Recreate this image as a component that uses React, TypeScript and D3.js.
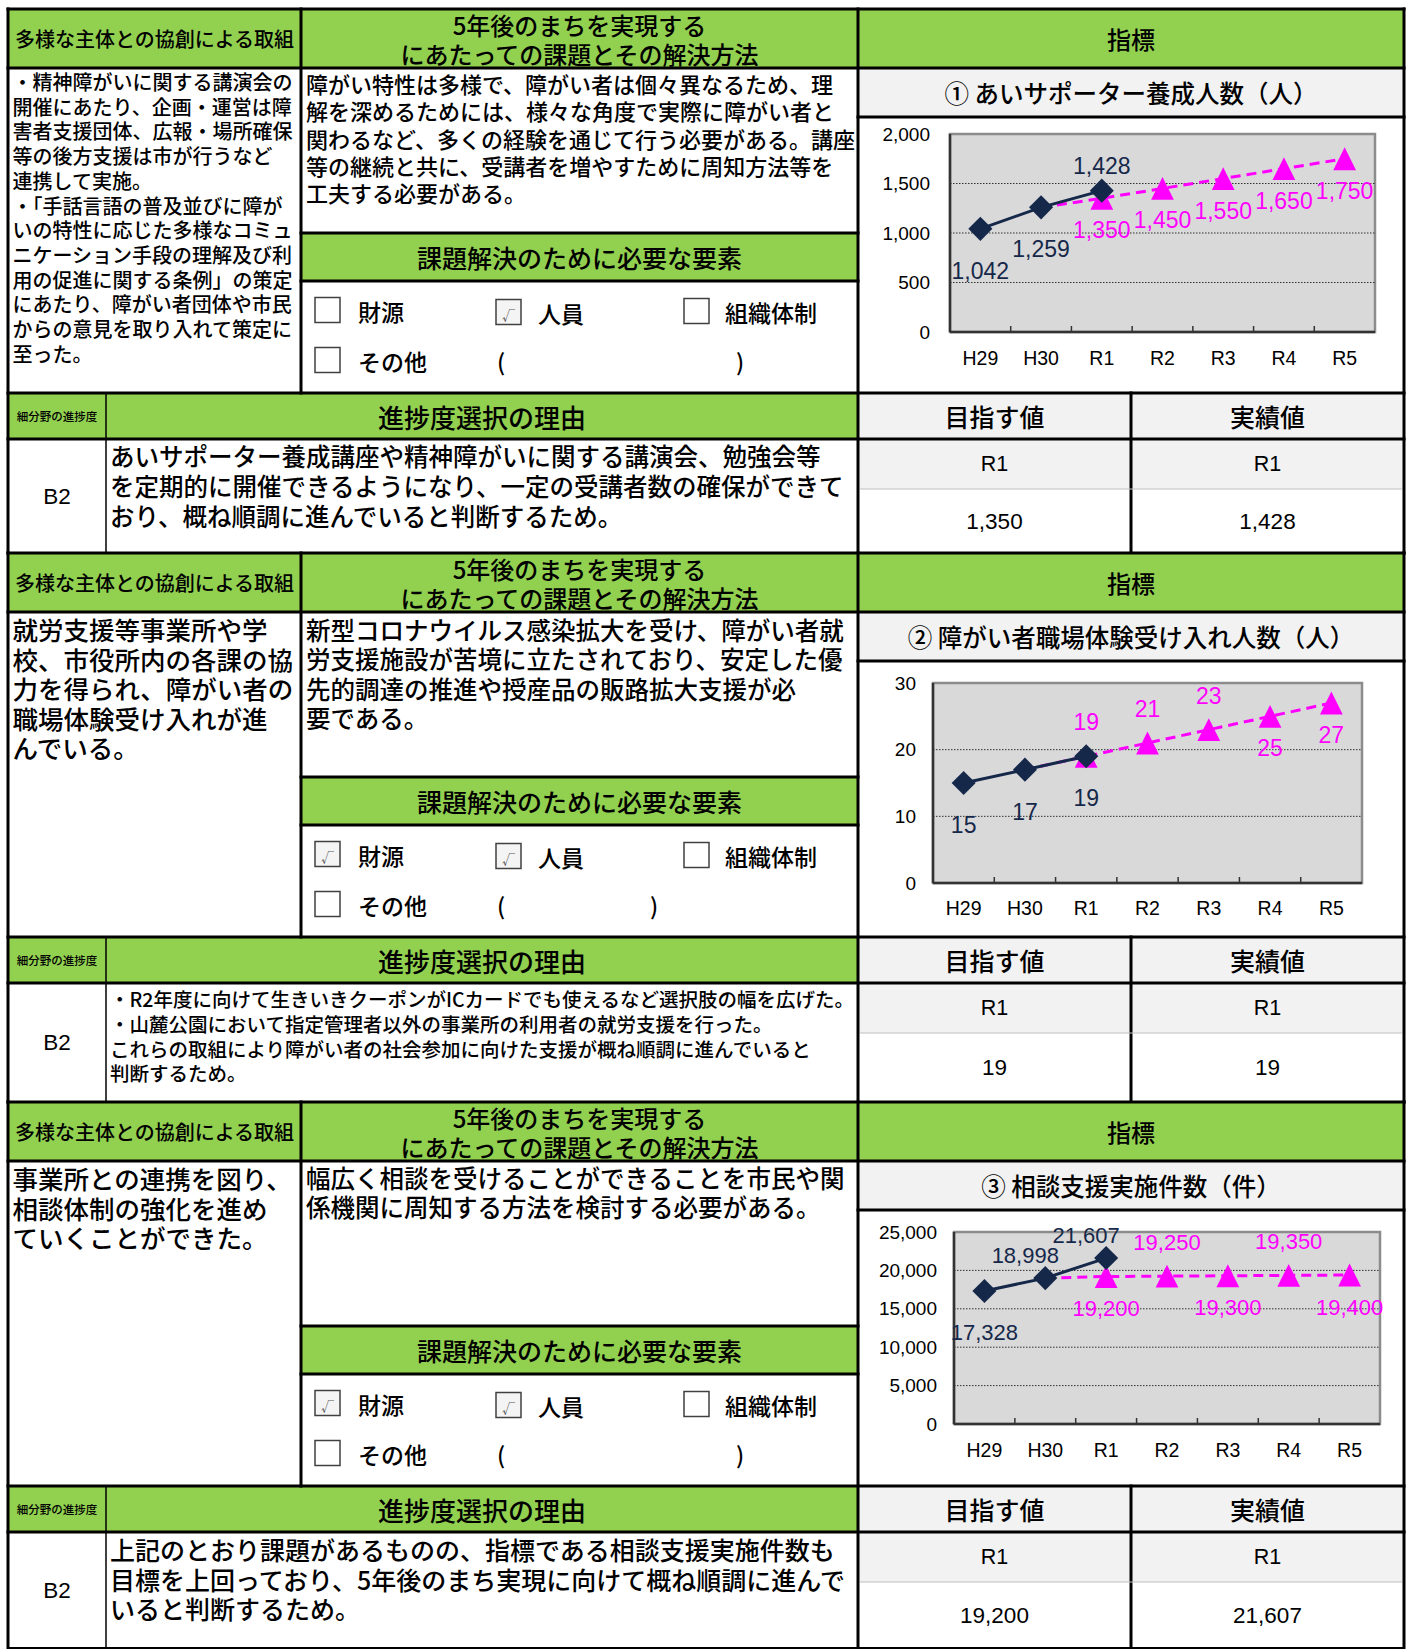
import React from 'react';
import * as d3 from 'd3';

// ---------------- data ----------------
const years = ['H29', 'H30', 'R1', 'R2', 'R3', 'R4', 'R5'];

const c1Actual = [1042, 1259, 1428];
const c1ActualPos = ['below', 'below', 'above'];
const c1Target = [null, 1259, 1350, 1450, 1550, 1650, 1750];
const c1TargetPos = [null, null, 'below', 'below', 'below', 'below', 'below'];
const c1Ticks = [0, 500, 1000, 1500, 2000];

const c2Actual = [15, 17, 19];
const c2ActualPos = ['below', 'below', 'below'];
const c2Target = [null, 17, 19, 21, 23, 25, 27];
const c2TargetPos = [null, null, 'above', 'above', 'above', 'below', 'below'];
const c2Ticks = [0, 10, 20, 30];

const c3Actual = [17328, 18998, 21607];
const c3ActualPos = ['below', 'aboveLeft', 'aboveLeft'];
const c3Target = [null, 18998, 19200, 19250, 19300, 19350, 19400];
const c3TargetPos = [null, null, 'below', 'above', 'below', 'above', 'below'];
const c3Ticks = [0, 5000, 10000, 15000, 20000, 25000];

const indicatorTitles = [
  '① あいサポーター養成人数（人）',
  '② 障がい者職場体験受け入れ人数（人）',
  '③ 相談支援実施件数（件）',
];

const leftTexts = [
  [
    '・精神障がいに関する講演会の',
    '開催にあたり、企画・運営は障',
    '害者支援団体、広報・場所確保',
    '等の後方支援は市が行うなど',
    '連携して実施。',
    '・「手話言語の普及並びに障が',
    'いの特性に応じた多様なコミュ',
    'ニケーション手段の理解及び利',
    '用の促進に関する条例」の策定',
    'にあたり、障がい者団体や市民',
    'からの意見を取り入れて策定に',
    '至った。',
  ],
  ['就労支援等事業所や学', '校、市役所内の各課の協', '力を得られ、障がい者の', '職場体験受け入れが進', 'んでいる。'],
  ['事業所との連携を図り、', '相談体制の強化を進め', 'ていくことができた。'],
];

const middleTexts = [
  [
    '障がい特性は多様で、障がい者は個々異なるため、理',
    '解を深めるためには、様々な角度で実際に障がい者と',
    '関わるなど、多くの経験を通じて行う必要がある。講座',
    '等の継続と共に、受講者を増やすために周知方法等を',
    '工夫する必要がある。',
  ],
  [
    '新型コロナウイルス感染拡大を受け、障がい者就',
    '労支援施設が苦境に立たされており、安定した優',
    '先的調達の推進や授産品の販路拡大支援が必',
    '要である。',
  ],
  ['幅広く相談を受けることができることを市民や関', '係機関に周知する方法を検討する必要がある。'],
];

const reasonTexts = [
  [
    'あいサポーター養成講座や精神障がいに関する講演会、勉強会等',
    'を定期的に開催できるようになり、一定の受講者数の確保ができて',
    'おり、概ね順調に進んでいると判断するため。',
  ],
  [
    '・R2年度に向けて生きいきクーポンがICカードでも使えるなど選択肢の幅を広げた。',
    '・山麓公園において指定管理者以外の事業所の利用者の就労支援を行った。',
    'これらの取組により障がい者の社会参加に向けた支援が概ね順調に進んでいると',
    '判断するため。',
  ],
  [
    '上記のとおり課題があるものの、指標である相談支援実施件数も',
    '目標を上回っており、5年後のまち実現に向けて概ね順調に進んで',
    'いると判断するため。',
  ],
];

const progressGrades = ['B2', 'B2', 'B2'];
const checkLabels = ['財源', '人員', '組織体制', 'その他'];
const checkStates = [
  [false, true, false, false],
  [true, true, false, false],
  [true, true, false, false],
];
const goalYears = ['R1', 'R1', 'R1'];
const goalValues = [1350, 19, 19200];
const resultValues = [1428, 19, 21607];

// ---------------- layout / style ----------------
const W = 1408;
const H = 1649;
const L = 8, CS = 106, C1 = 301, C2 = 858, CM = 1131, R = 1404;
const sectionTops = [9, 553, 1102];
const sectionEnds = [553, 1102, 1649];
const GREEN = '#92D050';
const GRAY = '#F2F2F2';
const NAVY = '#15284A';
const MAG = '#FF00FF';
const JP = '"Noto Sans CJK JP", "Noto Sans", sans-serif';
const NUM = '"Liberation Sans", Arial, sans-serif';
const JW = 500;
const fmt = d3.format(',');

const leftStyle = [
  { size: 20, pitch: 24.7, off: 13 },
  { size: 25.5, pitch: 29.5, off: 16 },
  { size: 25.5, pitch: 29.5, off: 16 },
];
const midStyle = [
  { size: 22, pitch: 27.3, off: 15 },
  { size: 24.5, pitch: 29.3, off: 17 },
  { size: 24.5, pitch: 29.3, off: 16 },
];
const reasonStyle = [
  { size: 24.5, pitch: 30, off: 16 },
  { size: 19.5, pitch: 24.8, off: 15 },
  { size: 25, pitch: 29.5, off: 17 },
];

const charts = [
  { actual: c1Actual, actualPos: c1ActualPos, target: c1Target, targetPos: c1TargetPos, ticks: c1Ticks,
    x0: 950, x1: 1375, y0: 134, y1: 332, xLabelY: 358, yLabelX: 930, labelSize: 23 },
  { actual: c2Actual, actualPos: c2ActualPos, target: c2Target, targetPos: c2TargetPos, ticks: c2Ticks,
    x0: 933, x1: 1362, y0: 683, y1: 883, xLabelY: 908, yLabelX: 916, labelSize: 23 },
  { actual: c3Actual, actualPos: c3ActualPos, target: c3Target, targetPos: c3TargetPos, ticks: c3Ticks,
    x0: 954, x1: 1380, y0: 1232, y1: 1424, xLabelY: 1450, yLabelX: 937, labelSize: 22 },
];

// Excel-like isosceles triangle marker (square bounding box)
const symbolTri = {
  draw(context: any, size: number) {
    const w = Math.sqrt(size);
    context.moveTo(0, -w / 2);
    context.lineTo(w / 2, w / 2);
    context.lineTo(-w / 2, w / 2);
    context.closePath();
  },
};

function labelOffset(pos: string | null, series: 'a' | 't') {
  if (pos === 'above') return { dx: 0, dy: series === 'a' ? -25 : -34 };
  if (pos === 'aboveLeft') return { dx: -20, dy: -23 };
  return { dx: 0, dy: series === 'a' ? 42 : 32 };
}

function Chart({ c }: { c: any }) {
  const x = d3.scaleBand<string>().domain(years).range([c.x0, c.x1]).padding(0);
  const max = c.ticks[c.ticks.length - 1];
  const y = d3.scaleLinear().domain([0, max]).range([c.y1, c.y0]);
  const cx = (i: number) => (x(years[i]) as number) + x.bandwidth() / 2;
  const line = d3.line<[number, number]>();
  const aPts: [number, number][] = c.actual.map((v: number, i: number) => [cx(i), y(v)]);
  const tPts: [number, number][] = [];
  c.target.forEach((v: number | null, i: number) => {
    if (v != null) tPts.push([cx(i), y(v)]);
  });
  const diamond = d3.symbol(d3.symbolSquare, 290)() as string;
  const tri = d3.symbol(symbolTri as any, 520)() as string;
  return (
    <g>
      <rect x={c.x0} y={c.y0} width={c.x1 - c.x0} height={c.y1 - c.y0} fill="#D9D9D9" stroke="#8C8C8C" strokeWidth={2.5} />
      {c.ticks.slice(1, -1).map((t: number) => (
        <line key={t} x1={c.x0} x2={c.x1} y1={y(t)} y2={y(t)} stroke="#303030" strokeWidth={1} strokeDasharray="1.5,1.5" />
      ))}
      <line x1={c.x0} x2={c.x0} y1={c.y0} y2={c.y1} stroke="#333" strokeWidth={2.5} />
      <line x1={c.x0} x2={c.x1} y1={c.y1} y2={c.y1} stroke="#333" strokeWidth={2.5} />
      {years.slice(1).map((yr) => (
        <line key={yr} x1={x(yr)} x2={x(yr)} y1={c.y1} y2={c.y1 - 6} stroke="#333" strokeWidth={1.5} />
      ))}
      {c.ticks.map((t: number) => (
        <text key={t} x={c.yLabelX} y={y(t)} fontSize={19} fontFamily={NUM} textAnchor="end" dominantBaseline="central" fill="#000">
          {fmt(t)}
        </text>
      ))}
      {years.map((yr, i) => (
        <text key={yr} x={cx(i)} y={c.xLabelY} fontSize={19.5} fontFamily={NUM} textAnchor="middle" dominantBaseline="central" fill="#000">
          {yr}
        </text>
      ))}
      <path d={line(tPts) as string} fill="none" stroke={MAG} strokeWidth={3} strokeDasharray="10,6" />
      {c.target.map((v: number | null, i: number) =>
        v != null && c.targetPos[i] ? (
          <path key={i} d={tri} transform={`translate(${cx(i)},${y(v)})`} fill={MAG} />
        ) : null
      )}
      <path d={line(aPts) as string} fill="none" stroke={NAVY} strokeWidth={3} />
      {aPts.map((p, i) => (
        <path key={i} d={diamond} transform={`translate(${p[0]},${p[1]}) rotate(45)`} fill={NAVY} />
      ))}
      {c.target.map((v: number | null, i: number) => {
        if (v == null || !c.targetPos[i]) return null;
        const o = labelOffset(c.targetPos[i], 't');
        return (
          <text key={i} x={cx(i) + o.dx} y={y(v) + o.dy} fontSize={c.labelSize} fontFamily={NUM} textAnchor="middle" dominantBaseline="central" fill={MAG}>
            {fmt(v)}
          </text>
        );
      })}
      {c.actual.map((v: number, i: number) => {
        const o = labelOffset(c.actualPos[i], 'a');
        return (
          <text key={i} x={cx(i) + o.dx} y={y(v) + o.dy} fontSize={c.labelSize} fontFamily={NUM} textAnchor="middle" dominantBaseline="central" fill={NAVY}>
            {fmt(v)}
          </text>
        );
      })}
    </g>
  );
}

function Lines({ lines, x, y, st }: { lines: string[]; x: number; y: number; st: any }) {
  return (
    <text x={x} y={y + st.off} fontSize={st.size} fontFamily={JP} fontWeight={JW} dominantBaseline="central" fill="#000">
      {lines.map((l, i) => (
        <tspan key={i} x={x} y={y + st.off + i * st.pitch} dominantBaseline="central">
          {l}
        </tspan>
      ))}
    </text>
  );
}

function JT({ x, y, size, children, anchor = 'middle' }: any) {
  return (
    <text x={x} y={y} fontSize={size} fontFamily={JP} fontWeight={JW} textAnchor={anchor} dominantBaseline="central" fill="#000">
      {children}
    </text>
  );
}

function CheckBox({ x, y, checked }: { x: number; y: number; checked: boolean }) {
  return (
    <g>
      <rect x={x} y={y - 12.5} width={25} height={25} fill={checked ? '#F4F4F4' : '#fff'} stroke="#404040" strokeWidth={1.5} />
      {checked ? (
        <text x={x + 12.5} y={y + 2} fontSize={13} fontFamily={JP} textAnchor="middle" dominantBaseline="central" fill="#555">
          √
        </text>
      ) : null}
    </g>
  );
}

function Section({ s }: { s: number }) {
  const t = sectionTops[s];
  const e = sectionEnds[s];
  const hb = t + 59; // header bottom
  const tb = t + 224; // middle text bottom
  const kb = t + 272; // 課題 header bottom
  const cb = t + 384; // checkbox bottom
  const pb = t + 430; // progress header bottom
  const ib = t + 108; // indicator title bottom
  const rb = t + 480; // R1 row bottom
  const thick = 3;
  const r1 = t + 301;
  const r2 = t + 351;
  const checkX = [315, 496, 684, 315];
  const checkY = [r1, r1 + 2, r1 + 1, r2];
  const labelX = [358, 538, 725, 358];
  const paren = s === 1 ? 650 : 736;
  return (
    <g>
      {/* fills */}
      <rect x={L} y={t} width={R - L} height={hb - t} fill={GREEN} />
      <rect x={C1} y={tb} width={C2 - C1} height={kb - tb} fill={GREEN} />
      <rect x={L} y={cb} width={C2 - L} height={pb - cb} fill={GREEN} />
      <rect x={C2} y={hb} width={R - C2} height={ib - hb} fill={GRAY} />
      <rect x={C2} y={cb} width={R - C2} height={rb - cb} fill={GRAY} />

      {/* header texts */}
      <JT x={(L + C1) / 2} y={(t + hb) / 2} size={20}>多様な主体との協創による取組</JT>
      <JT x={(C1 + C2) / 2} y={t + 15} size={24}>5年後のまちを実現する</JT>
      <JT x={(C1 + C2) / 2} y={t + 44} size={24}>にあたっての課題とその解決方法</JT>
      <JT x={(C2 + R) / 2} y={(t + hb) / 2} size={24}>指標</JT>
      <JT x={(C2 + R) / 2} y={(hb + ib) / 2} size={24.5}>{indicatorTitles[s]}</JT>

      <Lines lines={leftTexts[s]} x={12.5} y={hb} st={leftStyle[s]} />
      <Lines lines={middleTexts[s]} x={306} y={hb} st={midStyle[s]} />

      <JT x={(C1 + C2) / 2} y={(tb + kb) / 2} size={25}>課題解決のために必要な要素</JT>
      {checkLabels.map((lab, i) => (
        <g key={lab}>
          <CheckBox x={checkX[i]} y={checkY[i]} checked={checkStates[s][i]} />
          <JT x={labelX[i]} y={checkY[i] + 1} size={23} anchor="start">{lab}</JT>
        </g>
      ))}
      <JT x={497} y={r2 + 1} size={23} anchor="start">(</JT>
      <JT x={paren} y={r2 + 1} size={23} anchor="start">)</JT>

      {/* progress */}
      <JT x={(L + CS) / 2} y={(cb + pb) / 2} size={11.5}>細分野の進捗度</JT>
      <JT x={(CS + C2) / 2} y={(cb + pb) / 2} size={26}>進捗度選択の理由</JT>
      <text x={(L + CS) / 2} y={(pb + e) / 2} fontSize={22.5} fontFamily={NUM} textAnchor="middle" dominantBaseline="central">
        {progressGrades[s]}
      </text>
      <Lines lines={reasonTexts[s]} x={110} y={pb} st={reasonStyle[s]} />

      <JT x={(C2 + CM) / 2} y={(cb + pb) / 2} size={25}>目指す値</JT>
      <JT x={(CM + R) / 2} y={(cb + pb) / 2} size={25}>実績値</JT>
      <text x={(C2 + CM) / 2} y={(pb + rb) / 2} fontSize={21.5} fontFamily={NUM} textAnchor="middle" dominantBaseline="central">
        {goalYears[s]}
      </text>
      <text x={(CM + R) / 2} y={(pb + rb) / 2} fontSize={21.5} fontFamily={NUM} textAnchor="middle" dominantBaseline="central">
        {goalYears[s]}
      </text>
      <text x={(C2 + CM) / 2} y={(rb + e) / 2} fontSize={22.5} fontFamily={NUM} textAnchor="middle" dominantBaseline="central">
        {fmt(goalValues[s])}
      </text>
      <text x={(CM + R) / 2} y={(rb + e) / 2} fontSize={22.5} fontFamily={NUM} textAnchor="middle" dominantBaseline="central">
        {fmt(resultValues[s])}
      </text>

      <Chart c={charts[s]} />

      {/* borders */}
      <g stroke="#000" strokeWidth={thick} strokeLinecap="square">
        <line x1={L} x2={R} y1={t} y2={t} />
        <line x1={L} x2={R} y1={hb} y2={hb} />
        <line x1={C1} x2={C2} y1={tb} y2={tb} />
        <line x1={C1} x2={C2} y1={kb} y2={kb} />
        <line x1={L} x2={R} y1={cb} y2={cb} />
        <line x1={L} x2={R} y1={pb} y2={pb} />
        <line x1={C2} x2={R} y1={ib} y2={ib} />
        <line x1={L} x2={L} y1={t} y2={e} />
        <line x1={R} x2={R} y1={t} y2={e} />
        <line x1={C1} x2={C1} y1={t} y2={cb} />
        <line x1={C2} x2={C2} y1={t} y2={e} />
        <line x1={CM} x2={CM} y1={cb} y2={e} />
      </g>
      <line x1={CS} x2={CS} y1={cb} y2={e} stroke="#000" strokeWidth={1.5} />
      <line x1={C2 + 2} x2={R - 2} y1={rb} y2={rb} stroke="#BFBFBF" strokeWidth={1.2} />
    </g>
  );
}

export default function App() {
  return (
    <svg
      width={W}
      height={H}
      viewBox={`0 0 ${W} ${H}`}
      style={{ position: 'absolute', left: 0, top: 0, display: 'block', background: '#fff' }}
    >
      <rect x={0} y={0} width={W} height={H} fill="#fff" />
      {[0, 1, 2].map((s) => (
        <Section key={s} s={s} />
      ))}
      <line x1={L} x2={R} y1={H - 1} y2={H - 1} stroke="#000" strokeWidth={2} />
    </svg>
  );
}
